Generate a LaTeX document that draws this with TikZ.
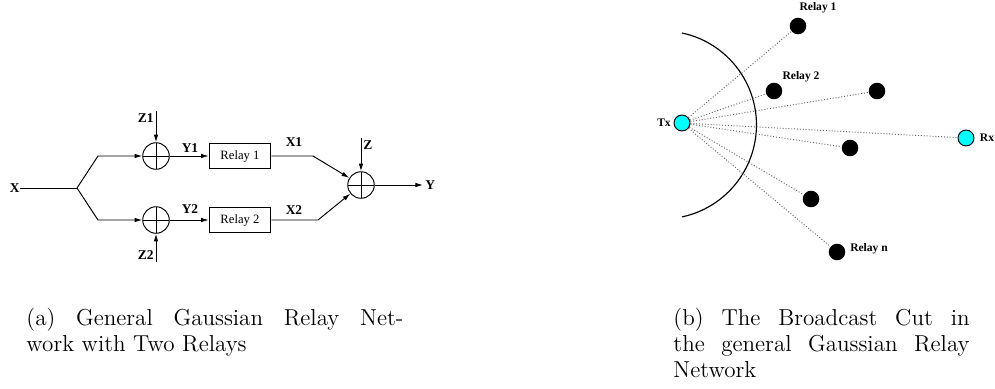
\documentclass[tikz,border=0pt]{standalone}
\usepackage{fontspec}
\newfontfamily\timesfont{Liberation Serif}
\usepackage{tikz}
\usetikzlibrary{arrows.meta}

\definecolor{aqua}{RGB}{0,255,255}
\tikzset{
	lbl/.style={font=\timesfont\bfseries\fontsize{7}{8}\selectfont, inner sep=1pt},
	smalllbl/.style={font=\timesfont\bfseries\fontsize{6}{7}\selectfont, inner sep=1pt},
	relaybox/.style={draw, minimum width=32pt, minimum height=13pt, inner sep=0pt,
		font=\timesfont\fontsize{6.6}{7}\selectfont},
	adder/.style={draw, circle, minimum size=13.8pt, inner sep=0pt,
		path picture={\draw (path picture bounding box.north) -- (path picture bounding box.south)
			(path picture bounding box.west) -- (path picture bounding box.east);}},
	station/.style={draw, circle, fill=aqua, minimum size=8.3pt, inner sep=0pt},
	relaydot/.style={circle, fill=black, minimum size=8.6pt, inner sep=0pt},
	link/.style={densely dotted, gray!80!black, line width=0.5pt},
	caption/.style={anchor=north west, inner sep=0pt, align=justify, font=\fontsize{12}{13.5}\selectfont}
}

\begin{document}
\begin{tikzpicture}[x=0.52pt, y=-0.52pt, line width=0.5pt, >={Latex[length=4pt,width=2.4pt]}]
	\useasboundingbox (0,0) rectangle (995,388);
	\begin{scope}
		\node[lbl, anchor=east, inner sep=0pt] (x) at (20,188) {X};
		\coordinate (split) at (77,188);
		\coordinate (up) at (98,156);
		\coordinate (dn) at (98,220);
		\node[adder] (s1) at (156,156) {};
		\node[adder] (s2) at (156,220) {};
		\node[relaybox] (r1) at (240,156) {Relay 1};
		\node[relaybox] (r2) at (240,220) {Relay 2};
		\coordinate (k1) at (313,156);
		\coordinate (k2) at (318,220);
		\node[adder] (s) at (361,185) {};
		\coordinate (z1) at (156,111);
		\coordinate (z2) at (156,262);
		\coordinate (z) at (361,138);
		\coordinate (yo) at (423,185);
		\node[lbl, anchor=north east] (z1l) at (z1) {Z1};
		\node[lbl, anchor=south east] (z2l) at (z2) {Z2};
		\node[lbl, anchor=north west] (zl) at (z) {Z};
		\node[lbl, anchor=west] (yl) at (yo) {Y};
		\node[lbl] (y1l) at (190,148) {Y1};
		\node[lbl] (y2l) at (190,209) {Y2};
		\node[lbl] (x1l) at (294,142) {X1};
		\node[lbl] (x2l) at (294,210) {X2};
		\draw (x.east) -- (split);
		\draw[->] (split) -- (up) -- (s1.west);
		\draw[->] (split) -- (dn) -- (s2.west);
		\draw[->] (z1) -- (s1.north);
		\draw[->] (z2) -- (s2.south);
		\draw[->] (s1.east) -- (r1.west);
		\draw[->] (s2.east) -- (r2.west);
		\draw[->] (r1.east) -- (k1) -- (s);
		\draw[->] (r2.east) -- (k2) -- (s);
		\draw[->] (z) -- (s.north);
		\draw[->] (s.east) -- (yo);
		\node[caption, text width=196pt] (capa) at (26,308)
			{(a) General Gaussian Relay Net-\linebreak work with Two Relays};
	\end{scope}
	\begin{scope}
		\draw[line width=0.6pt] (682,33) arc[start angle=-78, end angle=78, radius=94];
		\node[station] (tx) at (682,123) {};
		\node[station] (rx) at (966,138) {};
		\node[relaydot] (n1) at (798,26) {};
		\node[relaydot] (n2) at (774,91) {};
		\node[relaydot] (n3) at (877,91) {};
		\node[relaydot] (n4) at (850,148) {};
		\node[relaydot] (n5) at (811,199) {};
		\node[relaydot] (nn) at (837,252) {};
		\foreach \n in {n1,n2,n3,n4,n5,nn,rx}
			\draw[link] (tx) -- (\n);
		\node[smalllbl] (txl) at (664,123) {Tx};
		\node[smalllbl] (rxl) at (987,138) {Rx};
		\node[smalllbl] (n1l) at (818,8) {Relay 1};
		\node[smalllbl] (n2l) at (801,77) {Relay 2};
		\node[smalllbl] (nnl) at (869,249) {Relay n};
		\node[caption, text width=154pt] (capb) at (673,308)
			{(b) The Broadcast Cut in\linebreak the general Gaussian Relay\linebreak Network};
	\end{scope}
\end{tikzpicture}
\end{document}
